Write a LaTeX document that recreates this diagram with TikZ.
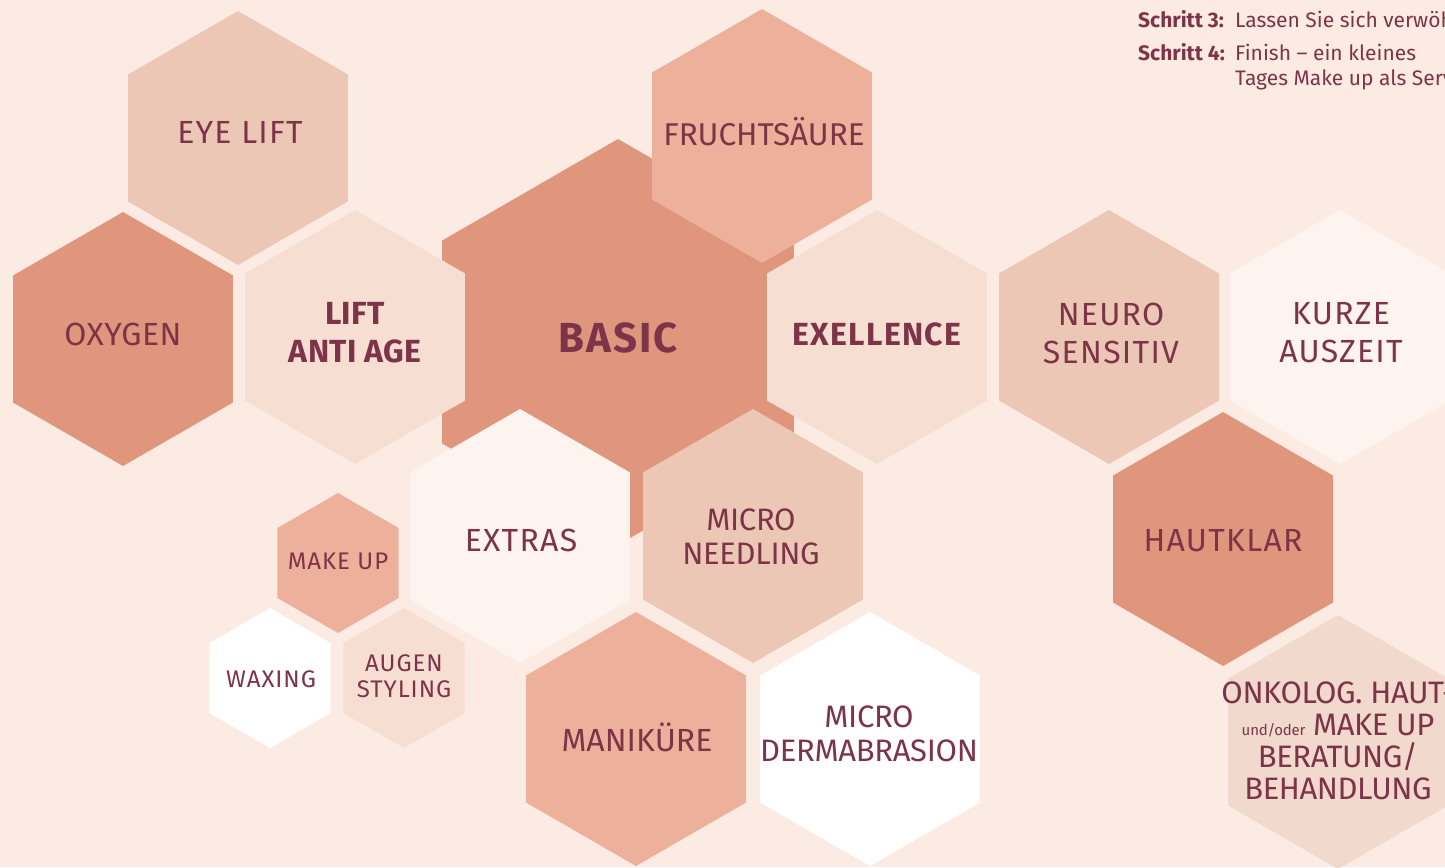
\documentclass[tikz,border=0pt]{standalone}
\usepackage{fontspec}
\setmainfont{Fira Sans}
\usetikzlibrary{shapes.geometric}
\definecolor{bg}{HTML}{FCEBE3}
\definecolor{cdark}{HTML}{E0967D}
\definecolor{cmed}{HTML}{EDB09B}
\definecolor{ctan}{HTML}{ECC7B5}
\definecolor{clight}{HTML}{F7DED2}
\definecolor{conko}{HTML}{F1D9CD}
\definecolor{cvlight}{HTML}{FDF4F0}
\definecolor{cwhite}{HTML}{FFFFFF}
\definecolor{txt}{HTML}{7E3448}
\newcommand{\lfont}[3]{\fontsize{#1}{#2}\selectfont\addfontfeature{LetterSpace=#3}}
\tikzset{
  hexa/.style={regular polygon, regular polygon sides=6, shape border rotate=30,
    minimum size=254pt, inner sep=0pt, outer sep=0pt, draw=none, fill=#1},
  smallhex/.style={hexa=#1, minimum size=140pt},
  bighex/.style={hexa=#1, minimum size=406pt},
  lbl/.style={text=txt, align=center, inner sep=0pt, font=\lfont{32}{38}{4}},
  lblb/.style={lbl, font=\fontsize{32}{38}\selectfont\bfseries\addfontfeature{LetterSpace=4}},
  lbls/.style={lbl, font=\lfont{24}{26}{4}},
  toptxt/.style={text=txt, inner sep=0pt, anchor=base west, font=\fontsize{21}{24}\selectfont}
}
\begin{document}
\begin{tikzpicture}[x=1pt,y=-1pt]
\useasboundingbox (0,0) rectangle (1445,867);
\fill[bg] (0,0) rectangle (1445,867);
\clip (0,0) rectangle (1445,867);
% hexagons
\node[bighex=cdark] (basic) at (618,342) {};
\node[hexa=ctan] (eyelift) at (238,138) {};
\node[hexa=cmed] (frucht) at (762,136) {};
\node[hexa=cdark] (oxygen) at (123,339) {};
\node[hexa=clight] (lift) at (355,337) {};
\node[hexa=clight] (exell) at (877,337) {};
\node[hexa=ctan] (neuro) at (1109,337) {};
\node[hexa=cvlight] (kurze) at (1340,337) {};
\node[hexa=cvlight] (extras) at (520,536) {};
\node[hexa=ctan] (needling) at (753,536) {};
\node[hexa=cdark] (hautklar) at (1223,539) {};
\node[smallhex=cmed] (makeup) at (338,563) {};
\node[smallhex=cwhite] (waxing) at (270,678) {};
\node[smallhex=clight] (augen) at (404,678) {};
\node[hexa=cmed] (manik) at (636,739) {};
\node[hexa=cwhite] (derma) at (870,739) {};
\node[hexa=conko] (onko) at (1338,742) {};
% labels
\node[lbl] (t-eyelift) at (240,132) {EYE LIFT};
\node[lbl, font=\lfont{31.5}{38}{0}] (t-frucht) at (764,132) {FRUCHTSÄURE};
\node[lbl, font=\lfont{32}{38}{1.5}] (t-oxygen) at (123,334) {OXYGEN};
\node[lblb, font=\fontsize{32}{38}\selectfont\bfseries\addfontfeature{LetterSpace=1}] (t-lift) at (355,333) {LIFT\\ANTI AGE};
\node[lbl, font=\fontsize{42}{46}\selectfont\bfseries\addfontfeature{LetterSpace=5}] (t-basic) at (618,338) {BASIC};
\node[lblb] (t-exell) at (877,334) {EXELLENCE};
\node[lbl] (t-neuro) at (1111,333) {NEURO\\SENSITIV};
\node[lbl] (t-kurze) at (1341,333) {KURZE\\AUSZEIT};
\node[lbl] (t-extras) at (521,540) {EXTRAS};
\node[lbl, font=\lfont{31}{34}{-1}] (t-needling) at (751,537) {MICRO\\NEEDLING};
\node[lbl] (t-hautklar) at (1223,541) {HAUTKLAR};
\node[lbls] (t-makeup) at (338,561) {MAKE UP};
\node[lbls] (t-waxing) at (271,679) {WAXING};
\node[lbls] (t-augen) at (404,676) {AUGEN\\STYLING};
\node[lbl, font=\lfont{32}{38}{0}] (t-manik) at (637,737) {MANIKÜRE};
\node[lbl, font=\lfont{31}{34}{-1}] (t-derma) at (869,734) {MICRO\\DERMABRASION};
\node[lbl, font=\lfont{31}{32}{-1.5}] (t-onko) at (1338,741)
  {ONKOLOG. HAUT-\\{\fontsize{15}{15}\selectfont und/oder} MAKE UP\\BERATUNG/\\BEHANDLUNG};
% top right text
\node[toptxt, font=\fontsize{21}{24}\selectfont\bfseries] (s3) at (1138,28) {Schritt 3:};
\node[toptxt] (s3t) at (1235,28) {Lassen Sie sich verwöhnen};
\node[toptxt, font=\fontsize{21}{24}\selectfont\bfseries] (s4) at (1138,60) {Schritt 4:};
\node[toptxt] (s4t) at (1235,60) {Finish – ein kleines};
\node[toptxt] (s4u) at (1235,85) {Tages Make up als Service};
\end{tikzpicture}
\end{document}
